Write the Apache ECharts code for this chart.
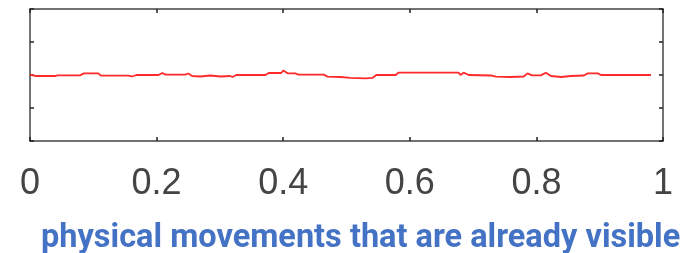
<!DOCTYPE html>
<html>
<head>
<meta charset="utf-8">
<script src="https://cdn.jsdelivr.net/npm/echarts@6/dist/echarts.min.js"></script>
<style>
  html, body { margin: 0; padding: 0; background: #fff; }
  #chart { width: 689px; height: 253px; }
</style>
</head>
<body>
<div id="chart"></div>
<script>
// x position of each traced point (0..1)
var timeValues = [0, 0.008, 0.040, 0.044, 0.079, 0.085, 0.108, 0.112, 0.155, 0.161,
  0.168, 0.203, 0.209, 0.214, 0.245, 0.250, 0.256, 0.269, 0.285, 0.301,
  0.316, 0.320, 0.326, 0.372, 0.377, 0.397, 0.400, 0.407, 0.419, 0.424,
  0.464, 0.470, 0.491, 0.506, 0.530, 0.541, 0.547, 0.578, 0.582, 0.609,
  0.612, 0.617, 0.677, 0.680, 0.685, 0.693, 0.728, 0.736, 0.759, 0.780,
  0.786, 0.793, 0.807, 0.815, 0.823, 0.839, 0.854, 0.875, 0.881, 0.897,
  0.902, 0.981]
// signal value of each traced point
var signalValues = [0.01, -0.03, -0.03, -0.01, -0.01, 0.05, 0.05, -0.02, -0.02, -0.045,
  0, 0, 0.06, 0.01, 0.01, 0.045, -0.03, -0.045, -0.015, -0.045,
  -0.03, -0.06, 0, 0, 0.06, 0.06, 0.135, 0.05, 0.05, 0.01,
  0.01, -0.05, -0.06, -0.09, -0.105, -0.09, 0, 0, 0.07, 0.07,
  0.12, 0.07, 0.07, 0, 0.07, 0, -0.015, -0.05, -0.06, -0.045,
  0.05, -0.01, -0.01, 0.07, -0.03, -0.06, -0.03, -0.015, 0.05, 0.05,
  0, 0]
var xTickLabels = ['0', '0.2', '0.4', '0.6', '0.8', '1']
var captionText = 'physical movements that are already visible'

var points = timeValues.map(function (t, i) { return [t, signalValues[i]] })

var chart = echarts.init(document.getElementById('chart'))

var boxLine = { show: true, onZero: false, lineStyle: { color: '#444', width: 1.5 } }
var innerTick = { show: true, inside: true, length: 4, lineStyle: { color: '#222', width: 1.5 } }

chart.setOption({
  animation: false,
  title: {
    text: captionText,
    left: 36,
    top: 217,
    textStyle: { color: '#4472c4', fontFamily: 'Roboto', fontWeight: 'bold', fontSize: 32.5 }
  },
  grid: { left: 30, right: 26, top: 9, bottom: 112 },
  xAxis: [
    {
      type: 'value', min: 0, max: 1, interval: 0.2,
      axisLine: boxLine, axisTick: innerTick, splitLine: { show: false },
      axisLabel: {
        margin: 25, color: '#444', fontFamily: 'Liberation Sans', fontSize: 36,
        formatter: function (v) { return xTickLabels[Math.round(v * 5)] }
      }
    },
    {
      type: 'value', position: 'top', min: 0, max: 1, interval: 0.2,
      axisLine: boxLine, axisTick: innerTick, splitLine: { show: false },
      axisLabel: { show: false }
    }
  ],
  yAxis: [
    {
      type: 'value', min: -2, max: 2, interval: 1,
      axisLine: boxLine, axisTick: innerTick, splitLine: { show: false },
      axisLabel: { show: false }
    },
    {
      type: 'value', position: 'right', min: -2, max: 2, interval: 1,
      axisLine: boxLine, axisTick: innerTick, splitLine: { show: false },
      axisLabel: { show: false }
    }
  ],
  series: [
    {
      type: 'line',
      data: points,
      showSymbol: false,
      lineStyle: { color: '#ff2a2a', width: 1.8 }
    }
  ]
})
</script>
</body>
</html>
